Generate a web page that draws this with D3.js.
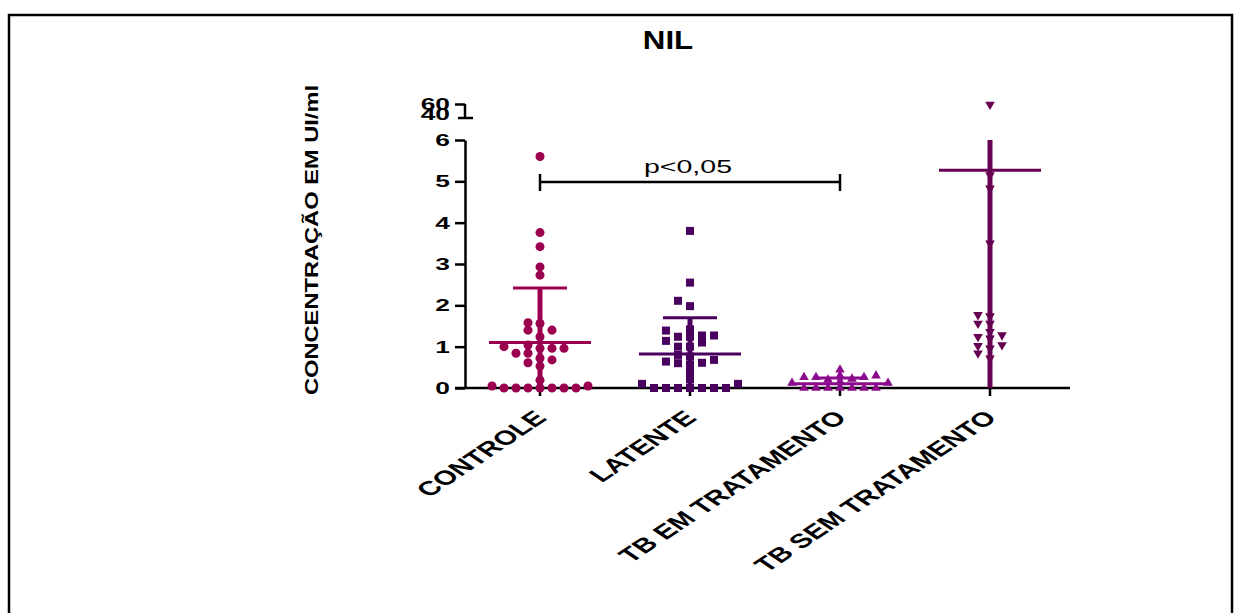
<!DOCTYPE html>
<html lang="pt">
<head>
<meta charset="UTF-8">
<title>NIL</title>
<script src="https://cdn.jsdelivr.net/npm/d3@7"></script>
<style>
  body { margin: 0; background: #fff; }
  text { font-family: "Liberation Sans", Arial, sans-serif; }
</style>
</head>
<body>
<svg width="1235" height="613"></svg>
<script>
// grupos e valores
var groups = ["CONTROLE", "LATENTE", "TB EM TRATAMENTO", "TB SEM TRATAMENTO"];
var colors = ["#9b0050", "#4a005f", "#8c0a8c", "#660052"];

var controle = [5.6, 3.76, 3.42, 2.93, 2.73, 1.58, 1.56, 1.40, 1.40, 1.24, 1.04, 1.0, 0.96, 0.96, 0.96,
                0.84, 0.84, 0.72, 0.68, 0.61, 0.53, 0.19, 0.05, 0.05, 0, 0, 0, 0, 0, 0, 0];
var latente = [3.80, 2.55, 2.11, 1.98, 1.42, 1.39, 1.27, 1.27, 1.24, 1.24, 1.14, 1.10, 1.0, 1.0, 0.8,
               0.76, 0.68, 0.64, 0.61, 0.60, 0.56, 0.39, 0.21, 0.1, 0.1, 0, 0, 0, 0, 0, 0, 0];
var tbEm = [0.44, 0.30, 0.30, 0.26, 0.26, 0.26, 0.22, 0.2, 0.15, 0.12, 0.12, 0, 0, 0, 0, 0, 0, 0];
var tbSem = [59, 5.15, 4.83, 3.5, 1.77, 1.74, 1.56, 1.56, 1.36, 1.28, 1.24, 1.2, 1.04, 1.02, 0.96, 0.84, 0.72];

var means = [1.1, 0.82, 0.1, 5.27];
var sds = [1.32, 0.88, 0.14, 13.8];

var lowTicks = [0, 1, 2, 3, 4, 5, 6];
var highTicks = [40, 60];

var svg = d3.select("svg");

// moldura
svg.append("rect")
    .attr("x", 9).attr("y", 15)
    .attr("width", 1223).attr("height", 640)
    .attr("fill", "none").attr("stroke", "#000").attr("stroke-width", 2.5);

// escalas
var x = d3.scalePoint().domain(groups).range([540, 990]);
var y = d3.scaleLinear().domain([0, 6]).range([388, 140]);
var yTop = d3.scaleLinear().domain([40, 60]).range([114, 104]);
function yv(v) { return v > 6 ? yTop(v) : y(v); }

// estica o texto na horizontal como no original
function stretch(sel, k) {
    sel.each(function() {
        var w = this.getComputedTextLength();
        d3.select(this).attr("textLength", w * k).attr("lengthAdjust", "spacingAndGlyphs");
    });
}

// titulo
svg.append("text")
    .attr("x", 668).attr("y", 49)
    .attr("text-anchor", "middle")
    .attr("font-size", 25).attr("font-weight", "bold")
    .text("NIL")
    .call(stretch, 1.25);

// rotulo eixo y
svg.append("text")
    .attr("transform", "translate(318,240) rotate(-90)")
    .attr("text-anchor", "middle")
    .attr("font-size", 18).attr("font-weight", "bold")
    .attr("textLength", 310).attr("lengthAdjust", "spacingAndGlyphs")
    .text("CONCENTRAÇÃO EM UI/ml");

// eixo y - parte de baixo
var axLow = svg.append("g")
    .attr("transform", "translate(465,0)")
    .call(d3.axisLeft(y).tickValues(lowTicks).tickFormat(d3.format("d"))
        .tickSize(10).tickPadding(5).tickSizeOuter(0));

// eixo y - parte de cima (quebra)
var axHigh = svg.append("g")
    .attr("transform", "translate(465,0)")
    .call(d3.axisLeft(yTop).tickValues(highTicks).tickFormat(d3.format("d"))
        .tickSize(10).tickPadding(5).tickSizeOuter(0));
axHigh.select(".domain").remove();
axHigh.selectAll(".tick line").filter(function(d) { return d === 40; }).remove();
axHigh.append("line")
    .attr("x1", 0).attr("x2", 0)
    .attr("y1", yTop(60)).attr("y2", yTop(40) + 4)
    .attr("stroke", "#000").attr("stroke-width", 2.5);
axHigh.append("line")
    .attr("x1", -7).attr("x2", 8)
    .attr("y1", yTop(40) + 4).attr("y2", yTop(40) + 4)
    .attr("stroke", "#000").attr("stroke-width", 2.5);

[axLow, axHigh].forEach(function(ax) {
    ax.selectAll(".domain, .tick line").attr("stroke", "#000").attr("stroke-width", 2.5);
    ax.selectAll(".tick text")
        .attr("font-size", 17).attr("font-weight", "bold").attr("fill", "#000")
        .attr("font-family", "Liberation Sans, Arial, sans-serif")
        .call(stretch, 1.55);
});

// eixo x
var step = x.step();
svg.append("line")
    .attr("x1", x(groups[0]) - step / 2 - 10).attr("x2", x(groups[3]) + step / 2 + 5)
    .attr("y1", y(0)).attr("y2", y(0))
    .attr("stroke", "#000").attr("stroke-width", 2.5);
svg.selectAll(".xtick")
    .data(groups)
    .join("line")
    .attr("class", "xtick")
    .attr("x1", function(d) { return x(d); }).attr("x2", function(d) { return x(d); })
    .attr("y1", y(0)).attr("y2", y(0) + 8)
    .attr("stroke", "#000").attr("stroke-width", 2.5);
svg.selectAll(".xlab")
    .data(groups)
    .join("text")
    .attr("class", "xlab")
    .attr("transform", function(d) {
        return "translate(" + (x(d) + 8) + "," + (y(0) + 31) + ") scale(1.5,1) rotate(-45)";
    })
    .attr("text-anchor", "end")
    .attr("font-size", 20).attr("font-weight", "bold")
    .text(function(d) { return d; });

// pontos em colunas (beeswarm simples)
function swarm(values, colStep, gap) {
    var placed = [];
    values.slice().sort(function(a, b) { return a - b; }).forEach(function(v) {
        var py = yv(v);
        for (var k = 0; k < 40; k++) {
            var c = k === 0 ? 0 : (k % 2 === 1 ? -Math.ceil(k / 2) : Math.ceil(k / 2));
            var hit = placed.some(function(p) { return p.c === c && Math.abs(p.y - py) < gap; });
            if (!hit) { placed.push({ v: v, c: c, y: py, dx: c * colStep }); break; }
        }
    });
    return placed;
}

var series = [controle, latente, tbEm, tbSem];
var shapes = [d3.symbolCircle, d3.symbolSquare, d3.symbolTriangle, d3.symbolTriangle];
var sizes = [64, 64, 40, 40];
var gaps = [7, 7, 5, 6];

series.forEach(function(vals, i) {
    var pts = swarm(vals, 12, gaps[i]);
    svg.append("g").selectAll("path")
        .data(pts)
        .join("path")
        .attr("d", d3.symbol().type(shapes[i]).size(sizes[i]))
        .attr("transform", function(p) {
            return "translate(" + (x(groups[i]) + p.dx) + "," + p.y + ")" + (i === 3 ? " rotate(180)" : "");
        })
        .attr("fill", colors[i]);
});

// media e desvio padrao
var bars = svg.append("g");
groups.forEach(function(g, i) {
    var cx = x(g);
    var hi = means[i] + sds[i];
    var lo = Math.max(0, means[i] - sds[i]);
    var hiClip = hi > 6;
    var yHi = hiClip ? y(6) : y(hi);
    bars.append("line")
        .attr("x1", cx).attr("x2", cx)
        .attr("y1", yHi).attr("y2", y(lo))
        .attr("stroke", colors[i]).attr("stroke-width", 5);
    if (!hiClip) {
        bars.append("line")
            .attr("x1", cx - 27).attr("x2", cx + 27)
            .attr("y1", y(hi)).attr("y2", y(hi))
            .attr("stroke", colors[i]).attr("stroke-width", 3);
    }
    bars.append("line")
        .attr("x1", cx - 51).attr("x2", cx + 51)
        .attr("y1", y(means[i])).attr("y2", y(means[i]))
        .attr("stroke", colors[i]).attr("stroke-width", 3);
});

// barra de significancia
var by = 182;
var x1 = x(groups[0]), x2 = x(groups[2]);
svg.append("line").attr("x1", x1).attr("x2", x2).attr("y1", by).attr("y2", by)
    .attr("stroke", "#000").attr("stroke-width", 2.5);
[x1, x2].forEach(function(xx) {
    svg.append("line").attr("x1", xx).attr("x2", xx).attr("y1", by - 8).attr("y2", by + 9)
        .attr("stroke", "#000").attr("stroke-width", 2.5);
});
svg.append("text")
    .attr("x", (x1 + x2) / 2 - 2).attr("y", 173)
    .attr("text-anchor", "middle")
    .attr("font-size", 18)
    .attr("textLength", 88).attr("lengthAdjust", "spacingAndGlyphs")
    .text("p<0,05");
</script>
</body>
</html>
